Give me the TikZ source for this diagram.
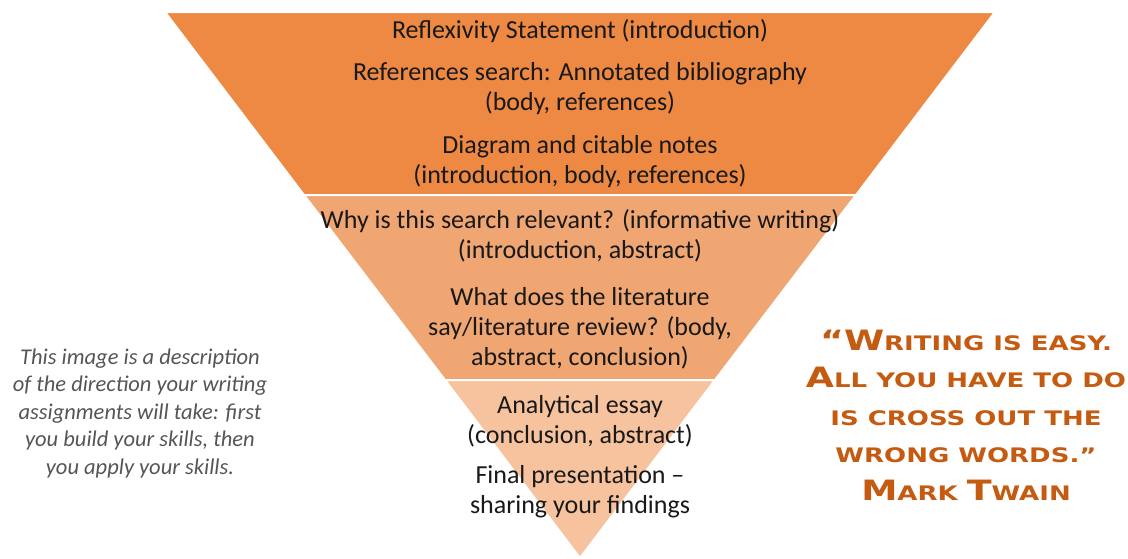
\documentclass[tikz,border=0pt]{standalone}
\usepackage{fontspec}
\setmainfont{Carlito}
\newfontfamily\quotefont{DejaVu Sans}[FakeStretch=1.3]
\usetikzlibrary{positioning}
\definecolor{bandtop}{RGB}{237,137,67}
\definecolor{bandmid}{RGB}{240,166,114}
\definecolor{bandlow}{RGB}{246,195,158}
\definecolor{quotecol}{RGB}{197,90,17}
\definecolor{notegray}{RGB}{85,85,85}
\newcommand{\capbig}[1]{{\fontsize{28}{30}\selectfont #1}}
\tikzstyle{band} = [draw=white, line width=2pt]
\tikzstyle{stage} = [align=center, inner sep=0pt, text=black!90, font=\fontsize{26}{30}\selectfont]
\tikzstyle{note} = [align=center, inner sep=0pt, text=notegray, font=\itshape\fontsize{22.5}{27.5}\selectfont]
\tikzstyle{quote} = [align=center, inner sep=0pt, text=quotecol, font=\quotefont\bfseries\fontsize{20}{37.5}\selectfont]

\begin{document}
\begin{tikzpicture}[x=1pt, y=-1pt]
\useasboundingbox (0,0) rectangle (1128,558);
% funnel bands
\filldraw [band, fill=bandtop] (165,12) -- (995,12) -- (856,195) -- (304,195) -- cycle;
\filldraw [band, fill=bandmid] (304,195) -- (856,195) -- (715,380) -- (445,380) -- cycle;
\filldraw [band, fill=bandlow] (445,380) -- (715,380) -- (580,558) -- cycle;
% stage texts
\node (reflexivity) [stage] at (580,31) {Reflexivity Statement (introduction)};
\node (references) [stage] at (580,89) {References search: Annotated bibliography\\(body, references)};
\node (diagram) [stage] at (580,162) {Diagram and citable notes\\(introduction, body, references)};
\node (relevant) [stage] at (580,236) {Why is this search relevant? (informative writing)\\(introduction, abstract)};
\node (literature) [stage] at (580,328) {What does the literature\\say/literature review? (body,\\abstract, conclusion)};
\node (essay) [stage] at (580,421) {Analytical essay\\(conclusion, abstract)};
\node (presentation) [stage] at (580,492) {Final presentation --\\sharing your findings};
% side texts
\node (direction) [note] at (140,413) {This image is a description\\of the direction your writing\\assignments will take: first\\you build your skills, then\\you apply your skills.};
\node (twain) [quote] at (966,415) {\capbig{“W}RITING IS EASY.\\\capbig{A}LL YOU HAVE TO DO\\IS CROSS OUT THE\\WRONG WORDS.”\\\capbig{M}ARK \capbig{T}WAIN};
\end{tikzpicture}
\end{document}
